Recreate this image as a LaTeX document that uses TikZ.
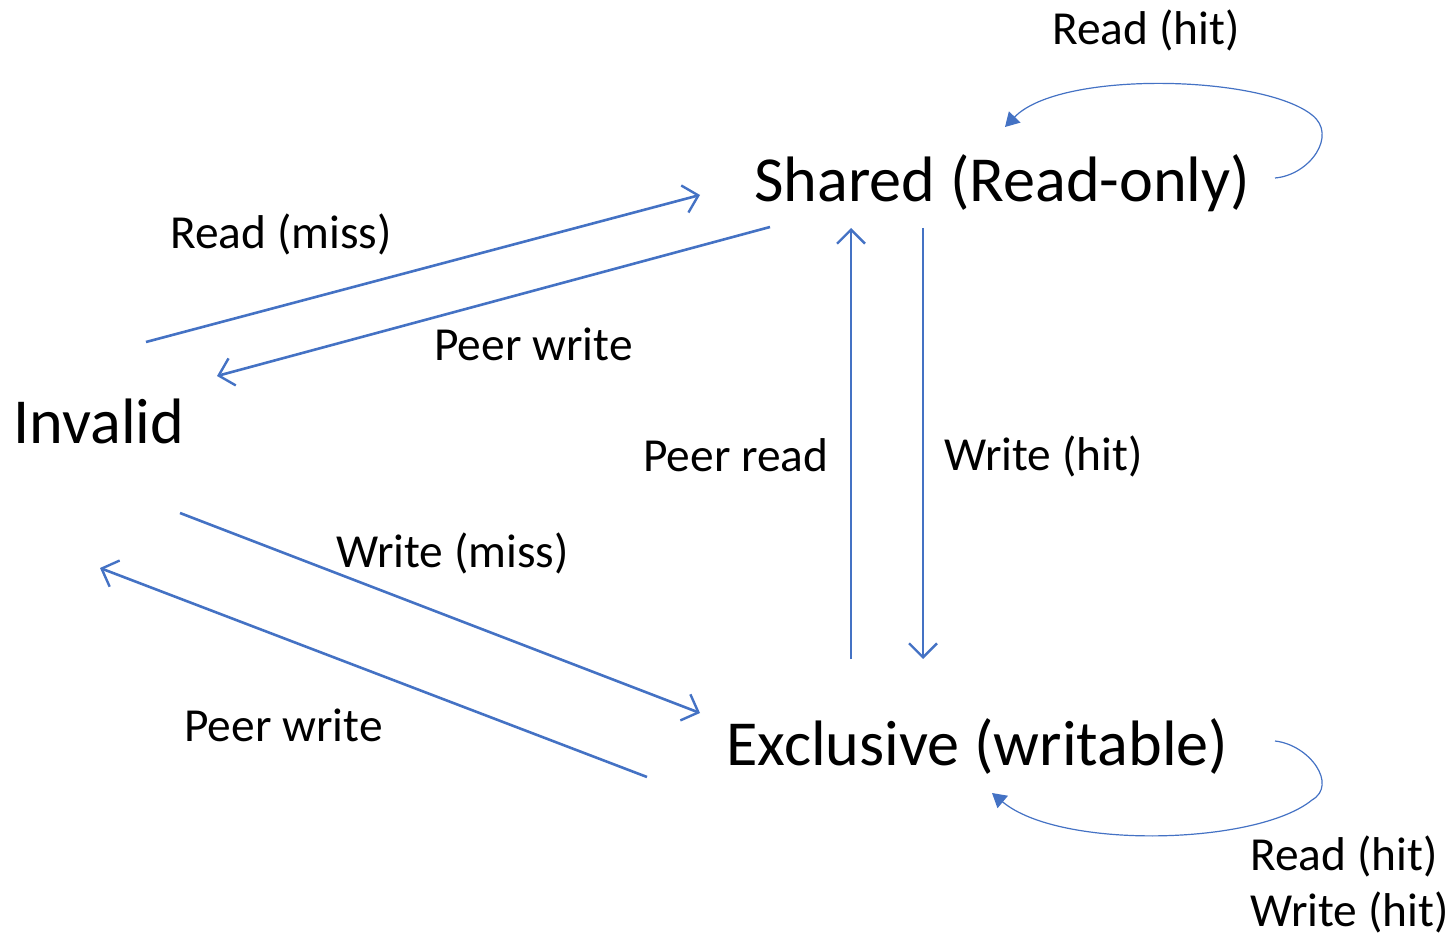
\documentclass[tikz,border=0pt]{standalone}
\usepackage{fontspec}
\setmainfont{Carlito}
\usetikzlibrary{arrows.meta}
\definecolor{lineblue}{RGB}{68,114,196}

\tikzset{
  state/.style={font=\fontsize{32.1}{36}\selectfont, inner sep=0pt, anchor=base west},
  edgelabel/.style={font=\fontsize{23.7}{28}\selectfont, inner sep=0pt, anchor=base west},
  trans/.style={draw=lineblue, line width=1.3pt, -{Straight Barb[length=7pt, width=14pt, line width=1.2pt]}},
  selfloop/.style={draw=lineblue, line width=0.6pt, -{Triangle[length=7pt, width=8pt]}}
}

\begin{document}
\begin{tikzpicture}[x=0.5pt, y=-0.5pt]
  \useasboundingbox (0,0) rectangle (1456,935);

  % states
  \node [state] (shared) at (754,202) {Shared (Read-only)};
  \node [state] (invalid) at (13,444) {Invalid};
  \node [state] (excl) at (726,765) {Exclusive (writable)};

  % arrow ends
  \coordinate (I1) at (146,342);
  \coordinate (S1) at (700,195);
  \coordinate (S2) at (770,227);
  \coordinate (I2) at (217,376);
  \coordinate (I3) at (180,513);
  \coordinate (E1) at (700,713);
  \coordinate (E2) at (647,777);
  \coordinate (I4) at (100,568);
  \coordinate (E3) at (851,659);
  \coordinate (S3) at (851,228);
  \coordinate (S4) at (923,228);
  \coordinate (E4) at (923,659);

  \draw [trans] (I1) -- (S1);
  \draw [trans] (S2) -- (I2);
  \draw [trans] (I3) -- (E1);
  \draw [trans] (E2) -- (I4);
  \draw [trans] (E3) -- (S3);
  \draw [trans] (S4) -- (E4);

  % self loops
  \coordinate (S5) at (1275,178);
  \coordinate (S6) at (1005,127);
  \coordinate (E5) at (1275,741);
  \coordinate (E6) at (992,793);
  \draw [selfloop] (S5) .. controls (1310,175) and (1338,135) .. (1312,115)
    .. controls (1262,75) and (1060,70) .. (S6);
  \draw [selfloop] (E5) .. controls (1310,745) and (1338,785) .. (1312,800)
    .. controls (1257,845) and (1060,850) .. (E6);

  % labels
  \node [edgelabel] (lrh) at (1052,45) {Read (hit)};
  \node [edgelabel] (lrm) at (170,249) {Read (miss)};
  \node [edgelabel] (lpw) at (434,361) {Peer write};
  \node [edgelabel] (lpr) at (643,472) {Peer read};
  \node [edgelabel] (lwh) at (944,470) {Write (hit)};
  \node [edgelabel] (lwm) at (336,567) {Write (miss)};
  \node [edgelabel] (lpw2) at (184,741) {Peer write};
  \node [edgelabel] (lrh2) at (1250,870) {Read (hit)};
  \node [edgelabel] (lwh2) at (1250,926) {Write (hit)};
\end{tikzpicture}
\end{document}
